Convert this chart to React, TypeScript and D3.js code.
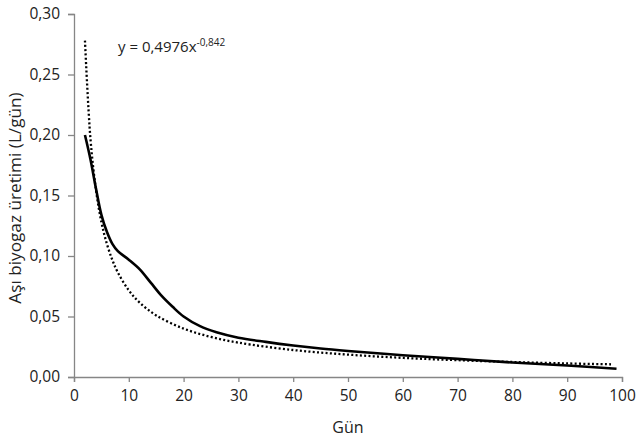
import React, { useRef, useEffect } from 'react';
import * as d3 from 'd3';

// measured daily biogas (solid line)
const measuredDays = [2, 3, 4, 5, 6, 7, 8, 10, 12, 14, 16, 18, 20, 23, 26, 30, 35, 40, 45, 50, 60, 70, 80, 90, 99];
const measuredValues = [0.200, 0.180, 0.156, 0.134, 0.120, 0.110, 0.104, 0.097, 0.089, 0.078, 0.067, 0.058, 0.050, 0.042, 0.037, 0.0325, 0.029, 0.026, 0.0235, 0.0215, 0.018, 0.015, 0.012, 0.0095, 0.0068];

// power trendline (dotted line)
const trendDays = [2, 3, 4, 5, 6, 7, 8, 10, 12, 15, 20, 25, 30, 40, 50, 60, 70, 80, 90, 98];
const trendValues = [0.278, 0.197, 0.155, 0.128, 0.110, 0.0967, 0.0864, 0.0716, 0.0614, 0.0509, 0.040, 0.0331, 0.0284, 0.0223, 0.0185, 0.0158, 0.0139, 0.0124, 0.0112, 0.0105];

const xTicks = [0, 10, 20, 30, 40, 50, 60, 70, 80, 90, 100];
const yTicks = [0, 0.05, 0.1, 0.15, 0.2, 0.25, 0.3];

const FONT = '"Open Sans", sans-serif';

function App() {
  const svgRef = useRef(null);

  useEffect(() => {
    const svg = d3.select(svgRef.current);
    svg.selectAll('*').remove();

    const x = d3.scaleLinear().domain([0, 100]).range([74, 622]);
    const y = d3.scaleLinear().domain([0, 0.3]).range([377, 14]);
    const axisColor = '#868686';

    const xAxis = d3.axisBottom(x).tickValues(xTicks).tickSize(5).tickFormat(d => String(d));
    const gx = svg.append('g').attr('transform', `translate(0, ${y(0)})`).call(xAxis);
    gx.select('.domain').attr('stroke', axisColor).attr('stroke-width', 1.3);
    gx.selectAll('.tick line').attr('stroke', axisColor).attr('stroke-width', 1.3);
    gx.selectAll('.tick text')
      .attr('fill', '#222').attr('font-size', 15.5).attr('font-family', FONT).attr('dy', '1.05em');

    const yAxis = d3.axisLeft(y).tickValues(yTicks).tickSize(6).tickPadding(8)
      .tickFormat(d => d3.format('.2f')(d as number).replace('.', ','));
    const gy = svg.append('g').attr('transform', `translate(${x(0)}, 0)`).call(yAxis);
    gy.select('.domain').attr('stroke', axisColor).attr('stroke-width', 1.3);
    gy.selectAll('.tick line').attr('stroke', axisColor).attr('stroke-width', 1.3);
    gy.selectAll('.tick text')
      .attr('fill', '#222').attr('font-size', 15.5).attr('font-family', FONT);

    const line = d3.line<[number, number]>()
      .x(d => x(d[0]))
      .y(d => y(d[1]))
      .curve(d3.curveCatmullRom.alpha(0.5));

    svg.append('path')
      .datum(trendDays.map((d, i) => [d, trendValues[i]] as [number, number]))
      .attr('d', line)
      .attr('fill', 'none')
      .attr('stroke', '#000')
      .attr('stroke-width', 2.3)
      .attr('stroke-dasharray', '2 2.3');

    svg.append('path')
      .datum(measuredDays.map((d, i) => [d, measuredValues[i]] as [number, number]))
      .attr('d', line)
      .attr('fill', 'none')
      .attr('stroke', '#000')
      .attr('stroke-width', 2.6)
      .attr('stroke-linejoin', 'round');

    // equation label
    const eq = svg.append('text')
      .attr('x', 118).attr('y', 52)
      .attr('font-family', FONT).attr('font-size', 15).attr('fill', '#222');
    eq.append('tspan').text('y = 0,4976x');
    eq.append('tspan').attr('font-size', 10).attr('dy', -6).text('-0,842');

    svg.append('text')
      .attr('x', 348).attr('y', 433)
      .attr('text-anchor', 'middle')
      .attr('font-family', FONT).attr('font-size', 16).attr('fill', '#222')
      .text('Gün');

    svg.append('text')
      .attr('transform', 'translate(21, 198) rotate(-90)')
      .attr('text-anchor', 'middle')
      .attr('font-family', FONT).attr('font-size', 17.2).attr('fill', '#222')
      .text('Aşı biyogaz üretimi (L/gün)');
  }, []);

  return (
    <svg ref={svgRef} width={640} height={438}
      style={{ position: 'absolute', left: 0, top: 0, background: '#fff' }} />
  );
}

export default App;
